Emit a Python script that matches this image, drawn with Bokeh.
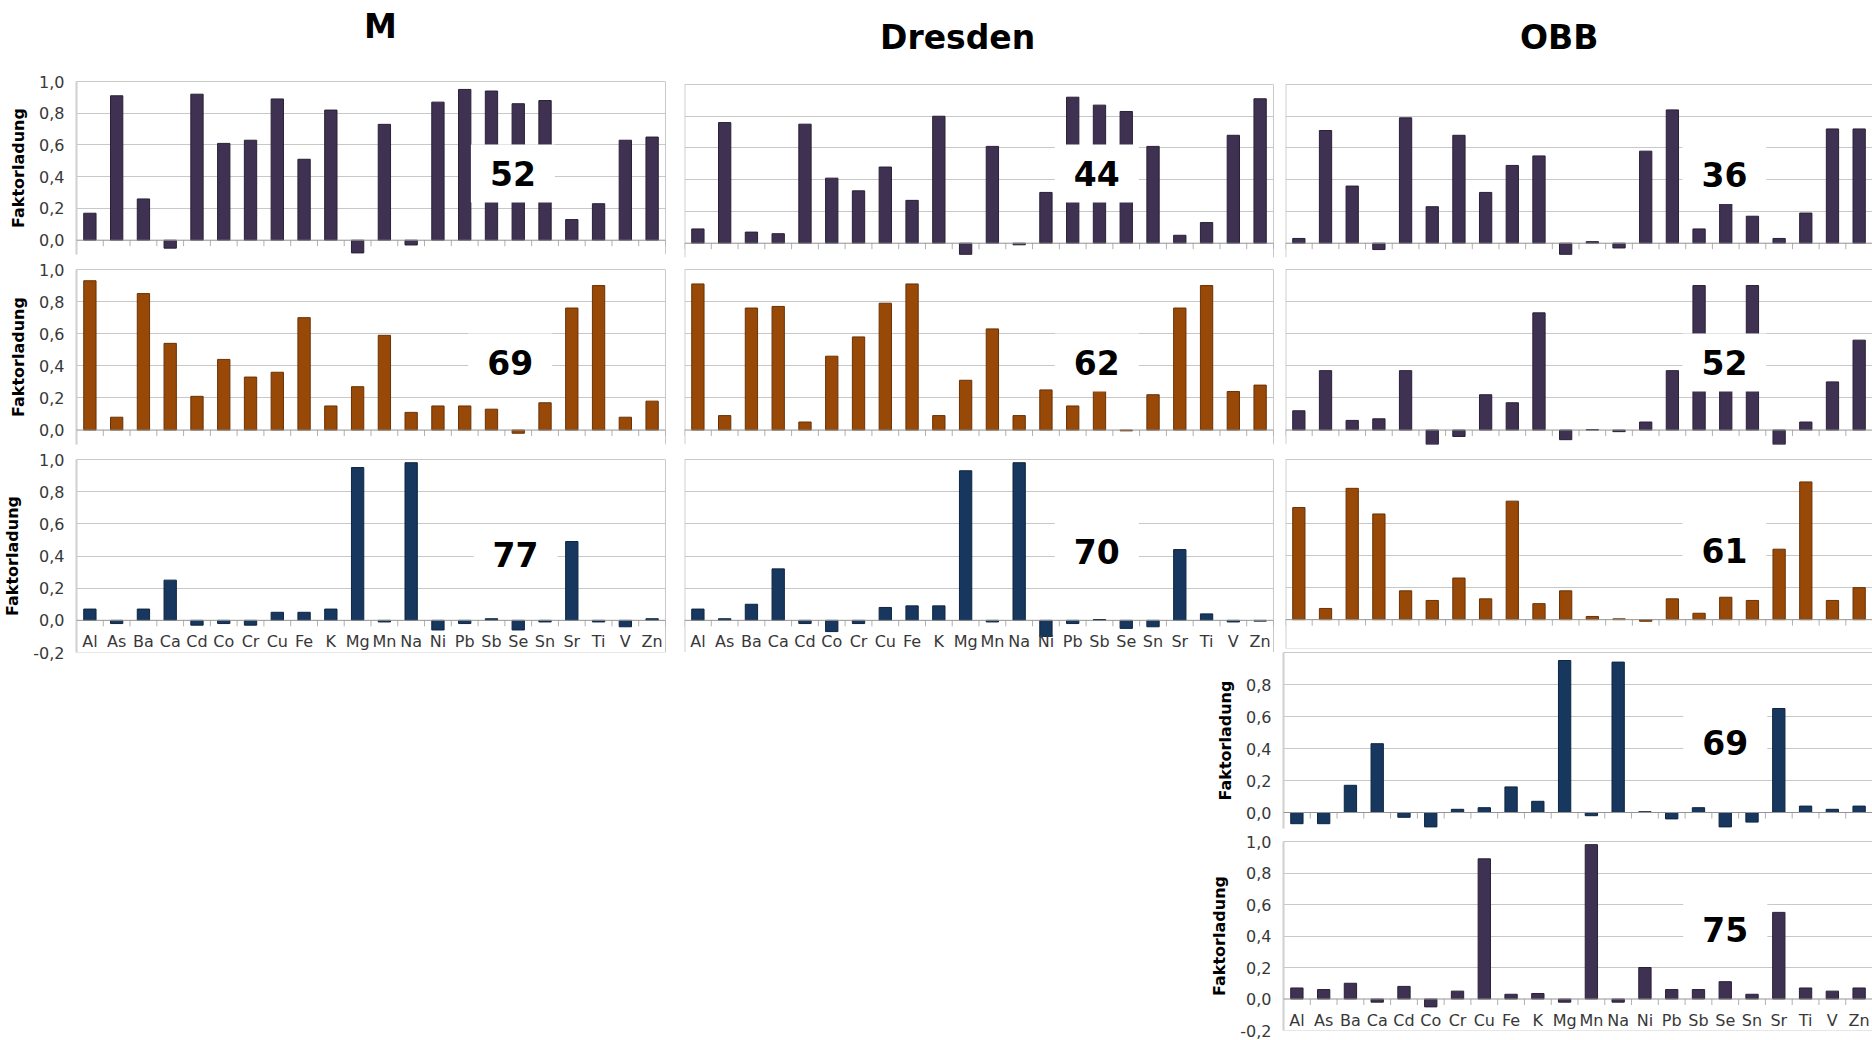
import numpy as np
from bokeh.plotting import figure
from bokeh.models import (Range1d, FactorRange, FixedTicker, CustomJSTickFormatter,
                          Span, Label, Div, Spacer)
from bokeh.layouts import column, row
from bokeh.embed import file_html
from bokeh.resources import INLINE
from bokeh.core.properties import value

# ---------------- data ----------------
elements = ["Al", "As", "Ba", "Ca", "Cd", "Co", "Cr", "Cu", "Fe", "K", "Mg",
            "Mn", "Na", "Ni", "Pb", "Sb", "Se", "Sn", "Sr", "Ti", "V", "Zn"]

group_titles = ["M", "Dresden", "OBB"]

m_f1 = [0.17, 0.91, 0.26, -0.05, 0.92, 0.61, 0.63, 0.89, 0.51, 0.82, -0.08,
        0.73, -0.03, 0.87, 0.95, 0.94, 0.86, 0.88, 0.13, 0.23, 0.63, 0.65]
m_f2 = [0.93, 0.08, 0.85, 0.54, 0.21, 0.44, 0.33, 0.36, 0.70, 0.15, 0.27,
        0.59, 0.11, 0.15, 0.15, 0.13, -0.02, 0.17, 0.76, 0.90, 0.08, 0.18]
m_f3 = [0.07, -0.02, 0.07, 0.25, -0.03, -0.02, -0.03, 0.05, 0.05, 0.07, 0.95,
        -0.01, 0.98, -0.06, -0.02, 0.01, -0.06, -0.01, 0.49, -0.01, -0.04, 0.01]

dd_f1 = [0.09, 0.76, 0.07, 0.06, 0.75, 0.41, 0.33, 0.48, 0.27, 0.80, -0.07,
         0.61, -0.01, 0.32, 0.92, 0.87, 0.83, 0.61, 0.05, 0.13, 0.68, 0.91]
dd_f2 = [0.91, 0.09, 0.76, 0.77, 0.05, 0.46, 0.58, 0.79, 0.91, 0.09, 0.31,
         0.63, 0.09, 0.25, 0.15, 0.25, -0.005, 0.22, 0.76, 0.90, 0.24, 0.28]
dd_f3 = [0.07, 0.01, 0.10, 0.32, -0.02, -0.07, -0.02, 0.08, 0.09, 0.09, 0.93,
         -0.01, 0.98, -0.10, -0.02, 0.005, -0.05, -0.04, 0.44, 0.04, -0.01, -0.005]

obb_f1 = [0.03, 0.71, 0.36, -0.04, 0.79, 0.23, 0.68, 0.32, 0.49, 0.55, -0.07,
          0.01, -0.03, 0.58, 0.84, 0.09, 0.25, 0.17, 0.03, 0.19, 0.72, 0.72]
obb_f2 = [0.12, 0.37, 0.06, 0.07, 0.37, -0.09, -0.04, 0.22, 0.17, 0.73, -0.06,
          0.003, -0.01, 0.05, 0.37, 0.90, 0.45, 0.90, -0.09, 0.05, 0.30, 0.56]
obb_f3 = [0.70, 0.07, 0.82, 0.66, 0.18, 0.12, 0.26, 0.13, 0.74, 0.10, 0.18,
          0.02, 0.005, -0.01, 0.13, 0.04, 0.14, 0.12, 0.44, 0.86, 0.12, 0.20]
obb_f4 = [-0.07, -0.07, 0.17, 0.43, -0.03, -0.09, 0.02, 0.03, 0.16, 0.07, 0.95,
          -0.02, 0.94, 0.005, -0.04, 0.03, -0.09, -0.06, 0.65, 0.04, 0.02, 0.04]
obb_f5 = [0.07, 0.06, 0.10, -0.02, 0.08, -0.05, 0.05, 0.89, 0.03, 0.035, -0.02,
          0.98, -0.02, 0.20, 0.06, 0.06, 0.11, 0.03, 0.55, 0.07, 0.05, 0.07]

m_numbers = ["52", "69", "77"]
dd_numbers = ["44", "62", "70"]
obb_numbers = ["36", "52", "61", "69", "75"]

# ---------------- style ----------------
PURPLE = ("#3f3151", "#2a2036")
ORANGE = ("#984807", "#6a3204")
NAVY = ("#17375e", "#0e2541")
FONT = "DejaVu Sans"
GRID = "#c8c8c8"
FRAME = "#939393"
LIGHT = "#cfcfcf"
TXT = "#383838"


def panel(vals, colors, num, num_x, num_y, ymin, fh, fw, bl, bt, bb, br,
          yticks=None, cats=False, bottom_line=False):
    n = len(elements)
    p = figure(x_range=FactorRange(factors=elements), y_range=Range1d(ymin, 1.0),
               frame_width=fw, frame_height=fh,
               min_border_left=bl, min_border_right=br,
               min_border_top=bt, min_border_bottom=bb,
               toolbar_location=None, output_backend="svg",
               background_fill_color="white", border_fill_color="white")
    p.outline_line_color = None
    p.xaxis.visible = False
    p.xgrid.visible = False
    p.ygrid.ticker = FixedTicker(ticks=[0.2, 0.4, 0.6, 0.8])
    p.ygrid.grid_line_color = GRID

    # plot-area border: top, right, (left), (bottom)
    p.add_layout(Span(location=1.0, dimension="width", line_color=FRAME, line_width=1))
    p.add_layout(Span(location=n, dimension="height", line_color=FRAME, line_width=1))
    if bottom_line:
        p.add_layout(Span(location=ymin, dimension="width", line_color=LIGHT, line_width=1))

    if yticks is None:
        p.yaxis.visible = False
        p.add_layout(Span(location=0, dimension="height", line_color=LIGHT, line_width=2))
    else:
        ax = p.yaxis[0]
        ax.ticker = FixedTicker(ticks=yticks)
        ax.formatter = CustomJSTickFormatter(code="return tick.toFixed(1).replace('.', ',');")
        ax.axis_label = "Faktorladung"
        ax.axis_label_text_font = FONT
        ax.axis_label_text_font_style = "bold"
        ax.axis_label_text_font_size = "16px"
        ax.axis_label_text_color = "black"
        ax.axis_label_standoff = 8
        ax.major_label_text_font = FONT
        ax.major_label_text_font_size = "16px"
        ax.major_label_text_color = TXT
        ax.major_label_standoff = 12
        ax.axis_line_color = LIGHT
        ax.axis_line_width = 2
        ax.major_tick_line_color = None
        ax.major_tick_out = 0
        ax.major_tick_in = 0
        ax.minor_tick_line_color = None

    p.vbar(x=elements, top=vals, bottom=0, width=0.46,
           fill_color=colors[0], line_color=colors[1], line_width=1)
    p.add_layout(Span(location=0, dimension="width", line_color=FRAME, line_width=1))
    p.ray(x=list(range(n + 1)), y=[0] * (n + 1), length=6, length_units="screen",
          angle=-np.pi / 2, line_color="#b0b0b0", line_width=1)
    if cats:
        p.text(x=elements, y=[0] * n, text=elements,
               text_font=value(FONT), text_font_size=value("16px"),
               text_color=TXT, text_align="center", text_baseline="middle",
               y_offset=21)
    # white box behind the number
    p.rect(x=[num_x], y=[num_y], width=84, height=58, width_units="screen",
           height_units="screen", fill_color="white", line_color=None)
    p.add_layout(Label(x=num_x, y=num_y, text=num, text_font=FONT,
                       text_font_size="33px", text_font_style="bold",
                       text_align="center", text_baseline="middle",
                       text_color="black"))
    return p


YT = [0.0, 0.2, 0.4, 0.6, 0.8, 1.0]
YT2 = [-0.2, 0.0, 0.2, 0.4, 0.6, 0.8, 1.0]
YT4 = [0.0, 0.2, 0.4, 0.6, 0.8]

# M column
M1 = panel(m_f1, PURPLE, m_numbers[0], 16.3, 0.42, -0.09, 173, 589, 76, 13, 7, 5, YT)
M2 = panel(m_f2, ORANGE, m_numbers[1], 16.2, 0.42, -0.09, 175, 589, 76, 8, 7, 5, YT)
M3 = panel(m_f3, NAVY, m_numbers[2], 16.4, 0.41, -0.2, 193, 589, 76, 8, 9, 5, YT2,
           cats=True, bottom_line=True)

# Dresden column
D1 = panel(dd_f1, PURPLE, dd_numbers[0], 15.4, 0.44, -0.09, 173, 589, 14, 16, 12, 6)
D2 = panel(dd_f2, ORANGE, dd_numbers[1], 15.4, 0.42, -0.09, 175, 589, 14, 0, 15, 6)
D3 = panel(dd_f3, NAVY, dd_numbers[2], 15.4, 0.43, -0.2, 193, 589, 14, 0, 0, 6,
           cats=True, bottom_line=True)

# OBB column
O1 = panel(obb_f1, PURPLE, obb_numbers[0], 16.45, 0.43, -0.09, 173, 587, 6, 16, 12, 0)
O2 = panel(obb_f2, PURPLE, obb_numbers[1], 16.45, 0.42, -0.09, 175, 587, 6, 0, 15, 0)
O3 = panel(obb_f3, ORANGE, obb_numbers[2], 16.45, 0.43, -0.18, 189, 587, 6, 0, 4, 0,
           bottom_line=True)
O4 = panel(obb_f4, NAVY, obb_numbers[3], 16.5, 0.44, -0.1, 176, 589, 76, 0, 5, 0, YT4)
O5 = panel(obb_f5, PURPLE, obb_numbers[4], 16.5, 0.44, -0.2, 189, 589, 76, 8, 10, 0, YT2,
           cats=True, bottom_line=True)

title_html = (
    '<div style="position:relative;width:1872px;height:68px;'
    'font-family:\'DejaVu Sans\';font-weight:bold;font-size:33px;color:#000;line-height:38px">'
    f'<span style="position:absolute;left:364px;top:8px">{group_titles[0]}</span>'
    f'<span style="position:absolute;left:880px;top:19px">{group_titles[1]}</span>'
    f'<span style="position:absolute;left:1520px;top:19px">{group_titles[2]}</span>'
    '</div>'
)
titles = Div(text=title_html, width=1872, height=68, margin=(0, 0, 0, 0))

col_M = column(M1, M2, M3)
col_D = column(D1, D2, D3)
col_O123 = column(O1, O2, O3)
col_O45 = column(O4, O5)
right = column(row(col_D, col_O123), row(Spacer(width=537, height=10), col_O45))
root = column(titles, row(col_M, right))

open("out.html", "w").write(file_html(root, INLINE))
